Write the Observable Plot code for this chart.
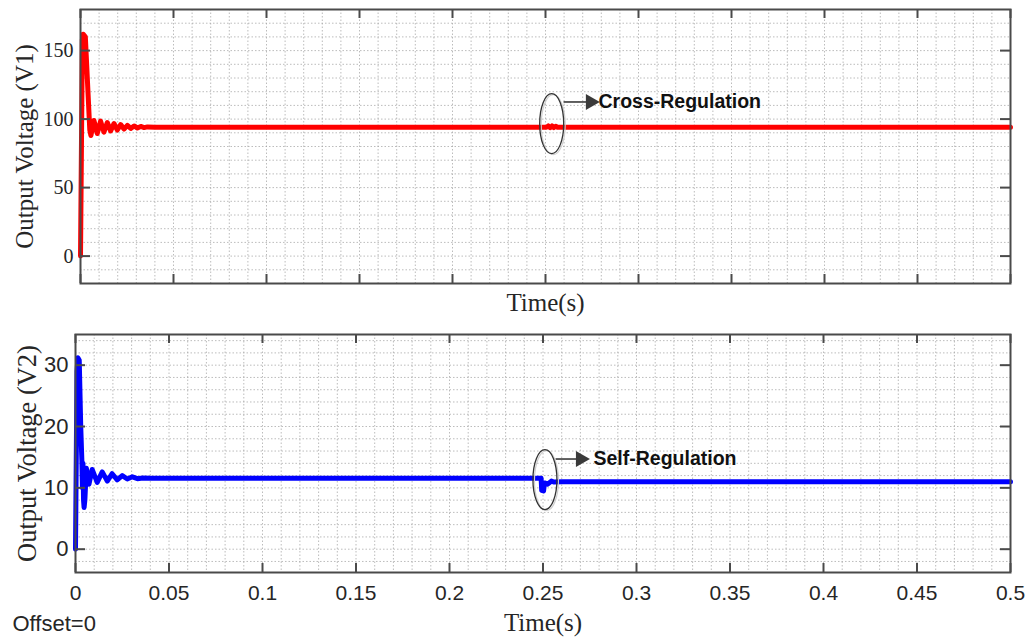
<!DOCTYPE html>
<html>
<head>
<meta charset="utf-8">
<script src="https://cdn.jsdelivr.net/npm/d3@7"></script>
<script src="https://cdn.jsdelivr.net/npm/@observablehq/plot@0.6"></script>
<style>
  body { margin: 0; background: #fff; }
  #chart { position: relative; width: 1031px; height: 639px; overflow: hidden; background: #fff; }
  #chart svg { display: block; }
</style>
</head>
<body>
<div id="chart"></div>
<script>
// ---------- data ----------
const xTicks = [0, 0.05, 0.1, 0.15, 0.2, 0.25, 0.3, 0.35, 0.4, 0.45, 0.5];
const xTickLabels = ["0", "0.05", "0.1", "0.15", "0.2", "0.25", "0.3", "0.35", "0.4", "0.45", "0.5"];
const v1Ticks = [0, 50, 100, 150];
const v2Ticks = [0, 10, 20, 30];

// Output Voltage V1 (red)
const t1 = [0, 0.0010, 0.0014, 0.0026, 0.0050, 0.0056, 0.0072, 0.0090, 0.0108, 0.0126, 0.0144, 0.0162,
            0.0180, 0.0198, 0.0216, 0.0234, 0.0252, 0.0270, 0.0288, 0.0306, 0.0324, 0.0342, 0.0360, 0.0400,
            0.2505, 0.2515, 0.2525, 0.2535, 0.2545, 0.2555, 0.2565, 0.5];
const v1 = [0, 158, 162, 160, 92, 88, 99, 89.5, 98.5, 90.5, 97.5, 91.3,
            96.8, 92, 96, 92.7, 95.4, 93.2, 95, 93.5, 94.6, 93.8, 94.3, 94,
            94, 95, 93.7, 95, 93.8, 94.8, 94, 94];

// Output Voltage V2 (blue)
const t2 = [0, 0.0008, 0.0013, 0.0020, 0.0028, 0.0034, 0.0037, 0.0040, 0.0043, 0.0046, 0.0050, 0.0058,
            0.0072, 0.0089, 0.0116, 0.0143, 0.0170, 0.0196, 0.0223, 0.0250, 0.0277, 0.0304, 0.0331, 0.0360,
            0.0400, 0.2490, 0.2493, 0.2503, 0.2508, 0.2525, 0.2545, 0.2560, 0.2600, 0.5];
const v2 = [0, 29, 31.2, 30.8, 20, 14.5, 10, 14, 8, 6.8, 8, 13.2,
            10.6, 13, 10.9, 12.6, 11.1, 12.3, 11.3, 12.0, 11.45, 11.8, 11.5, 11.6,
            11.55, 11.55, 9.6, 9.5, 10.8, 10.6, 11.1, 10.95, 11.0, 11.0];

// annotations: ellipse centre [t, v], arrow [start t, head t, v], text [t, v]
const ann1Label = "Cross-Regulation";
const ann1Ellipse = [0.2536, 96.3];
const ann1Arrow = [0.2597, 0.2742, 112.5];
const ann1Text = [0.2785, 112.5];

const ann2Label = "Self-Regulation";
const ann2Ellipse = [0.2513, 11.26];
const ann2Arrow = [0.2567, 0.2701, 14.7];
const ann2Text = [0.2770, 14.7];

// ---------- drawing ----------
const serif = "'Liberation Serif', 'Times New Roman', serif";
const sans = "'Liberation Sans', Arial, sans-serif";
const frameColor = "#4a4a4a";
const gridStyle = {stroke: "#a0a0a0", strokeOpacity: 0.7, strokeDasharray: "1.5,2", strokeWidth: 1};

function panel(cfg) {
  const innerW = cfg.width - cfg.marginLeft - cfg.marginRight;
  const innerH = cfg.height - cfg.marginTop - cfg.marginBottom;
  const series = cfg.t.map((t, i) => ({t, v: cfg.v[i]}));
  const [ex, ey] = cfg.ellipse;
  const [a0, a1, av] = cfg.arrow;
  const marks = [
    Plot.gridX(d3.range(0, 0.5001, 0.01), gridStyle),
    Plot.gridY(d3.range(cfg.minorStart, cfg.yDomain[1] + 0.001, cfg.minorStep), gridStyle),
    Plot.line(series, {x: "t", y: "v", stroke: cfg.color, strokeWidth: 5, strokeLinejoin: "round", strokeLinecap: "round"}),
    Plot.frame({stroke: frameColor, strokeWidth: 2}),
    Plot.tickX(xTicks, {x: d => d, insetTop: innerH - 9, stroke: frameColor, strokeWidth: 2}),
    Plot.tickX(xTicks, {x: d => d, insetBottom: innerH - 9, stroke: frameColor, strokeWidth: 2}),
    Plot.tickY(cfg.yTicks, {y: d => d, insetRight: innerW - 10, stroke: frameColor, strokeWidth: 2}),
    Plot.tickY(cfg.yTicks, {y: d => d, insetLeft: innerW - 10, stroke: frameColor, strokeWidth: 2}),
    Plot.axisY({ticks: cfg.yTicks, tickSize: 0, tickPadding: 7, label: null,
                fontFamily: cfg.yTickFont, fontSize: cfg.yTickSize}),
    Plot.text(["Time(s)"], {frameAnchor: "bottom", dy: cfg.timeDy, lineAnchor: "middle",
                            fontFamily: serif, fontSize: 25}),
    Plot.text([cfg.ylabel], {frameAnchor: "left", rotate: -90, dx: cfg.ylabelDx, lineAnchor: "middle",
                             textAnchor: "middle", fontFamily: serif, fontSize: cfg.ylabelSize}),
    Plot.link([0], {x1: () => a0, x2: () => a1 - 0.002, y1: () => av, y2: () => av, stroke: "#3a3a3a", strokeWidth: 1.6}),
    Plot.dot([0], {x: () => a1, y: () => av, symbol: "triangle", rotate: 90, r: 6, fill: "#3a3a3a", stroke: "none"}),
    Plot.text([cfg.label], {x: () => cfg.textPos[0], y: () => cfg.textPos[1], textAnchor: "start",
                            fontFamily: sans, fontWeight: "bold", fontSize: 19.5, fill: "#111"})
  ];
  if (cfg.showXLabels) {
    marks.push(Plot.axisX({ticks: xTicks, tickSize: 0, tickPadding: 13, label: null,
                           tickFormat: d => xTickLabels[xTicks.indexOf(d)],
                           fontFamily: sans, fontSize: 21}));
  }
  if (cfg.footer) {
    marks.push(Plot.text([cfg.footer], {frameAnchor: "bottom-left", textAnchor: "start", lineAnchor: "bottom",
                                        dx: 12 - cfg.marginLeft, dy: 58, fontFamily: sans, fontSize: 22}));
  }
  const plot = Plot.plot({
    width: cfg.width, height: cfg.height,
    marginLeft: cfg.marginLeft, marginRight: cfg.marginRight,
    marginTop: cfg.marginTop, marginBottom: cfg.marginBottom,
    x: {domain: [0, 0.5], axis: cfg.showXLabels ? undefined : null},
    y: {domain: cfg.yDomain},
    style: {fontFamily: serif, fontSize: "20px", color: "#262626", background: "#fff", overflow: "visible"},
    marks
  });
  const sx = plot.scale("x"), sy = plot.scale("y");
  const svg = d3.select(plot);
  svg.append("ellipse")
    .attr("cx", sx.apply(ex) + 1.5).attr("cy", sy.apply(ey) + 1)
    .attr("rx", 12).attr("ry", 30)
    .attr("fill", "none").attr("stroke", "#cfcfcf").attr("stroke-width", 1.2);
  svg.append("ellipse")
    .attr("cx", sx.apply(ex)).attr("cy", sy.apply(ey))
    .attr("rx", 12).attr("ry", 30)
    .attr("fill", "none").attr("stroke", "#333").attr("stroke-width", 1.3);
  return plot;
}

const chart = document.getElementById("chart");
chart.appendChild(panel({
  width: 1031, height: 320, marginLeft: 80, marginRight: 21, marginTop: 9, marginBottom: 37,
  yDomain: [-20, 180], yTicks: v1Ticks, minorStart: -20, minorStep: 10,
  t: t1, v: v1, color: "#ff0000",
  yTickFont: serif, yTickSize: 20,
  showXLabels: false, timeDy: 19,
  ylabel: "Output Voltage (V1)", ylabelSize: 25, ylabelDx: -56,
  ellipse: ann1Ellipse, arrow: ann1Arrow, textPos: ann1Text, label: ann1Label
}));
chart.appendChild(panel({
  width: 1031, height: 319, marginLeft: 75, marginRight: 21, marginTop: 14, marginBottom: 67,
  yDomain: [-3.8, 35], yTicks: v2Ticks, minorStart: -2, minorStep: 2,
  t: t2, v: v2, color: "#0000ff",
  yTickFont: sans, yTickSize: 22,
  showXLabels: true, timeDy: 50,
  ylabel: "Output Voltage (V2)", ylabelSize: 26.5, ylabelDx: -48,
  ellipse: ann2Ellipse, arrow: ann2Arrow, textPos: ann2Text, label: ann2Label,
  footer: "Offset=0"
}));
</script>
</body>
</html>
